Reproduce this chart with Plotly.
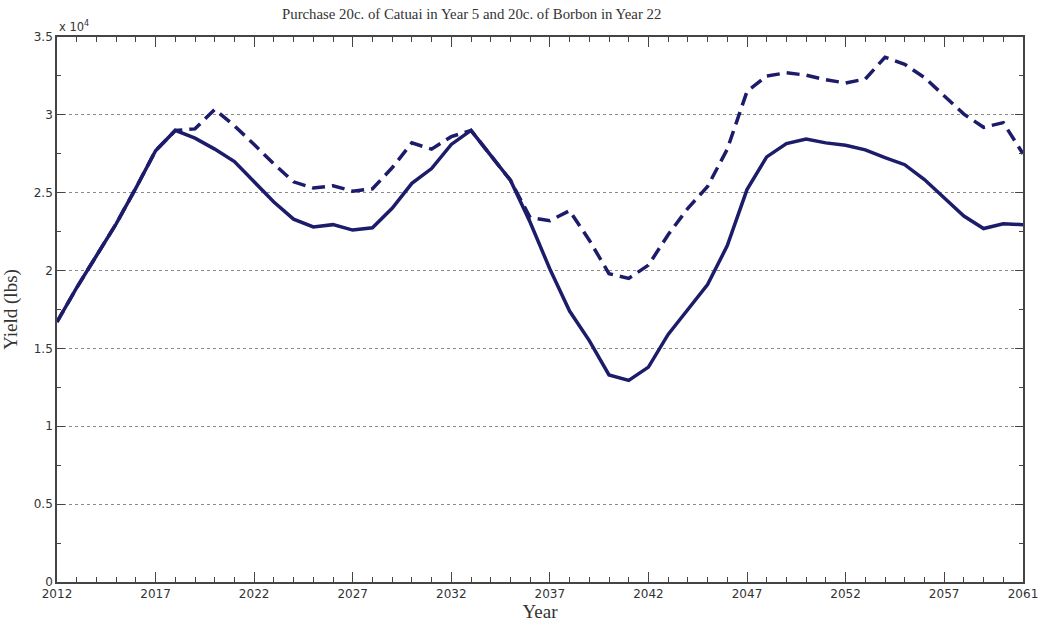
import plotly.graph_objects as go

# Years simulated
years = list(range(2012, 2062))

# Yield (lbs) with the purchase schedule applied
yield_solid = [
    16700, 18900, 20950, 23000, 25300, 27700, 29000, 28500, 27800, 27000,
    25700, 24400, 23300, 22800, 22950, 22600, 22750, 24000, 25600, 26550,
    28100, 29000, 27400, 25800, 23100, 20100, 17400, 15500, 13300, 12950,
    13800, 15900, 17500, 19100, 21600, 25200, 27300, 28150, 28450, 28200,
    28050, 27750, 27250, 26800, 25850, 24700, 23500, 22700, 23000, 22950,
]

# Alternative yield trajectory (dashed)
yield_dashed = [
    16700, 18900, 20950, 23000, 25300, 27700, 29000, 29100, 30350, 29300,
    28100, 26850, 25700, 25300, 25450, 25100, 25250, 26600, 28200, 27800,
    28600, 29000, 27400, 25800, 23400, 23200, 23850, 21950, 19800, 19500,
    20350, 22300, 24000, 25400, 27800, 31500, 32500, 32700, 32550, 32250,
    32050, 32300, 33700, 33250, 32400, 31200, 30050, 29200, 29500, 27500,
]

x_tick_vals = [2012, 2017, 2022, 2027, 2032, 2037, 2042, 2047, 2052, 2057, 2061]
y_tick_vals = [0, 5000, 10000, 15000, 20000, 25000, 30000, 35000]
y_tick_text = ["0", "0.5", "1", "1.5", "2", "2.5", "3", "3.5"]

title_text = "Purchase 20c. of Catuai in Year 5 and 20c. of Borbon in Year 22"

line_color = "#1c1c6a"
axis_color = "#444444"
serif = "Liberation Serif, DejaVu Serif, serif"
sans = "DejaVu Sans, Verdana, sans-serif"

fig = go.Figure()
fig.add_trace(go.Scatter(
    x=years, y=yield_dashed, mode="lines",
    line=dict(color=line_color, width=3.5, dash="13px,7px"),
    showlegend=False,
))
fig.add_trace(go.Scatter(
    x=years, y=yield_solid, mode="lines",
    line=dict(color=line_color, width=3.5),
    showlegend=False,
))

fig.update_layout(
    width=1040, height=622,
    margin=dict(l=57, r=17, t=37, b=40),
    paper_bgcolor="white", plot_bgcolor="white",
    font=dict(family=sans, size=12, color="#333333"),
    xaxis=dict(
        range=[2012, 2061], automargin=False,
        tickmode="array", tickvals=x_tick_vals,
        ticks="inside", ticklen=10, tickwidth=1.3, tickcolor=axis_color,
        minor=dict(dtick=1, ticks="inside", ticklen=5, tickwidth=1.2, tickcolor=axis_color),
        showline=True, linecolor=axis_color, linewidth=1.6, mirror="ticks",
        showgrid=False, zeroline=False,
        tickfont=dict(family=sans, size=12, color="#333333"),
        title=dict(text="Year", font=dict(family=serif, size=19, color="#333333")),
    ),
    yaxis=dict(
        range=[0, 35000], automargin=False,
        tickmode="array", tickvals=y_tick_vals, ticktext=y_tick_text,
        ticks="inside", ticklen=8, tickwidth=1.3, tickcolor=axis_color,
        minor=dict(dtick=2500, ticks="inside", ticklen=4, tickwidth=1.2,
                   tickcolor=axis_color, showgrid=False),
        showline=True, linecolor=axis_color, linewidth=1.6, mirror="ticks",
        showgrid=True, gridcolor="#8a8a8a", gridwidth=1, griddash="dot",
        zeroline=False,
        tickfont=dict(family=sans, size=12, color="#333333"),
        title=dict(text="Yield (lbs)", font=dict(family=serif, size=19, color="#333333")),
    ),
    annotations=[
        dict(text=title_text, xref="paper", yref="paper", x=0.4286, y=1.0,
             yshift=23, xanchor="center", yanchor="middle", showarrow=False,
             font=dict(family=serif, size=14.8, color="#333333")),
        dict(text="x 10<sup>4</sup>", xref="paper", yref="paper", x=0.0, y=1.0,
             xanchor="left", yanchor="bottom", yshift=1, showarrow=False,
             font=dict(family=sans, size=11.5, color="#333333")),
    ],
)

fig.write_html("out.html")
